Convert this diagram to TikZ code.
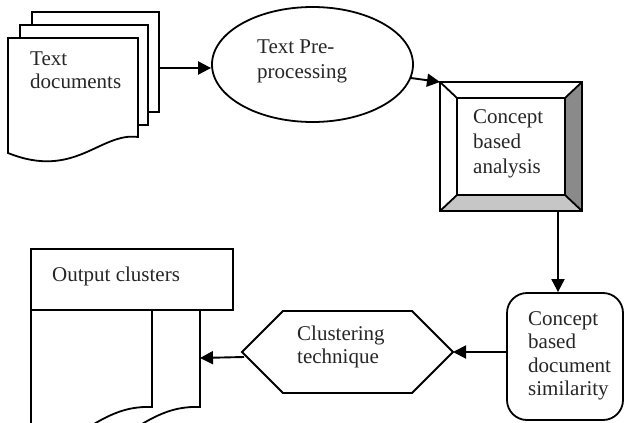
\documentclass[tikz,border=0pt]{standalone}
\usepackage{fontspec}
\setmainfont{Liberation Serif}
\usetikzlibrary{arrows.meta,shapes.geometric}
\definecolor{bevdark}{HTML}{8A8A8A}
\definecolor{bevlight}{HTML}{C6C6C6}
\begin{document}
\begin{tikzpicture}[x=1pt,y=-1pt,
  shp/.style={draw=black, line width=1.8pt, line join=miter},
  lbl/.style={anchor=base west, inner sep=0pt, align=left, font=\fontsize{21}{24}\selectfont, text=black!85},
  arr/.style={line width=1.9pt, -{Triangle[length=13pt,width=13pt]}},
  ghost/.style={draw=none, inner sep=0pt, outer sep=0pt}]
\clip (0,0) rectangle (627,423);
\fill[white] (0,0) rectangle (627,423);

% Text documents (stack)
\draw[shp, fill=white] (32,12) -- (159,12) -- (159,112) -- (32,112) -- cycle;
\draw[shp, fill=white] (20,25) -- (148,25) -- (148,125) -- (20,125) -- cycle;
\draw[shp, fill=white] (8,38) -- (138,38) -- (138,137) .. controls (100,132) and (75,180) .. (8,153) -- cycle;
\coordinate (docsout) at (159,68);
\node[lbl, font=\fontsize{21}{23}\selectfont] (tdocs) at (30,88) {Text\\documents};

% Text pre-processing
\node[shp, ellipse, minimum width=201, minimum height=115] (pre) at (312.5,64.5) {};
\node[lbl, font=\fontsize{21}{25}\selectfont] (tpre) at (257,78) {Text Pre-\\processing};

% Concept based analysis (bevel box)
\node[ghost, minimum width=142, minimum height=129] (cba) at (511,146.5) {};
\fill[white] (440,82) rectangle (582,211);
\fill[bevdark] (582,82) -- (582,211) -- (565,195) -- (565,98) -- cycle;
\fill[bevlight] (440,211) -- (582,211) -- (565,195) -- (457,195) -- cycle;
\draw[shp] (440,82) rectangle (582,211);
\draw[shp] (457,98) rectangle (565,195);
\draw[shp] (440,82) -- (457,98) (582,82) -- (565,98) (582,211) -- (565,195) (440,211) -- (457,195);
\node[lbl, font=\fontsize{21}{25}\selectfont] (tcba) at (473,173) {Concept\\based\\analysis};

% Concept based document similarity
\node[shp, rounded corners=20pt, minimum width=116, minimum height=127] (sim) at (565,356.5) {};
\node[lbl, font=\fontsize{21}{23.5}\selectfont] (tsim) at (528,395.5) {Concept\\based\\document\\similarity};

% Clustering technique (hexagon)
\node[ghost, minimum width=211, minimum height=82] (hex) at (347.5,352) {};
\draw[shp, fill=white] (hex.west) -- ([xshift=41pt]hex.north west) -- ([xshift=-41pt]hex.north east) -- (hex.east) -- ([xshift=-41pt]hex.south east) -- ([xshift=41pt]hex.south west) -- cycle;
\node[lbl, font=\fontsize{21}{23}\selectfont] (thex) at (297,363) {Clustering\\technique};

% Output clusters
\node[ghost, minimum width=202, minimum height=61] (out) at (132,279.5) {};
\draw[shp, fill=white] (31,249) rectangle (233,310);
\draw[shp, fill=white] (31,310) -- (200,310) -- (200,407) .. controls (173,406) and (153,415) .. (118,440) -- (31,440) -- cycle;
\draw[shp, fill=white] (31,310) -- (152,310) -- (152,407) .. controls (125,406) and (105,415) .. (70,440) -- (31,440) -- cycle;
\coordinate (outR) at (200,358);
\node[lbl] (tout) at (52,281) {Output clusters};

% Connectors
\draw[arr] (docsout) -- (docsout -| pre.west);
\draw[arr] (pre) -- (cba.north west);
\draw[arr] ([xshift=-7pt]sim.north |- cba.south) -- ([xshift=-7pt]sim.north);
\draw[arr] (sim.west |- hex.east) -- (hex.east);
\draw[arr] ([xshift=2pt,yshift=-5pt]hex.west) -- (outR);
\end{tikzpicture}
\end{document}
